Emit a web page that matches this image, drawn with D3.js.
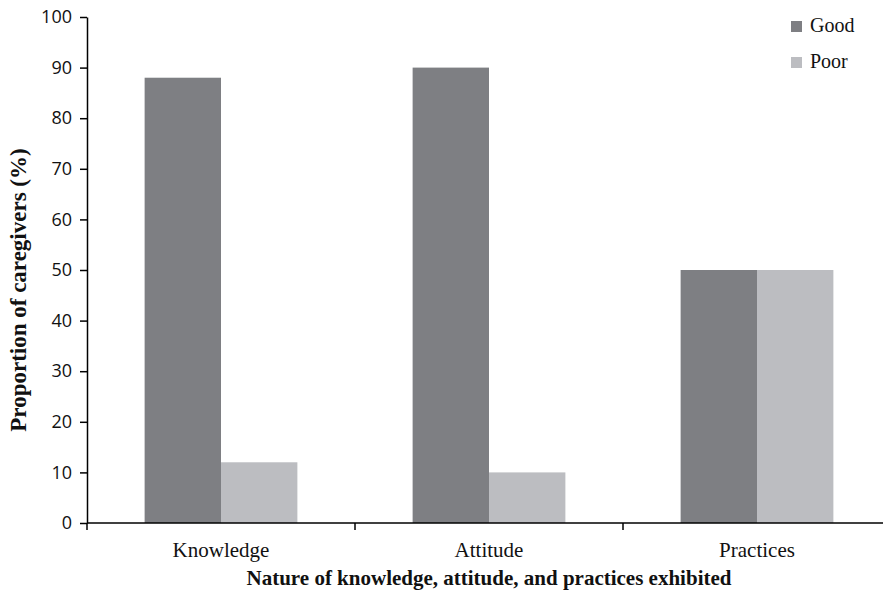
<!DOCTYPE html>
<html>
<head>
<meta charset="utf-8">
<script src="https://cdn.jsdelivr.net/npm/d3@7"></script>
<style>
  body { margin: 0; background: #fff; }
  svg { display: block; }
</style>
</head>
<body>
<div id="chart"></div>
<script>
const categories = ["Knowledge", "Attitude", "Practices"];
const seriesNames = ["Good", "Poor"];
const goodValues = [88, 90, 50];
const poorValues = [12, 10, 50];
const yTicks = [0, 10, 20, 30, 40, 50, 60, 70, 80, 90, 100];

const colors = { Good: "#7e7f83", Poor: "#bcbdc1" };

const W = 883, H = 591;
const margin = { top: 17, right: -8, bottom: 68, left: 87 };
const width = W - margin.left - margin.right;
const height = H - margin.top - margin.bottom;

const data = categories.map((c, i) => ({ category: c, Good: goodValues[i], Poor: poorValues[i] }));

const svg = d3.select("#chart")
  .append("svg")
  .attr("width", W)
  .attr("height", H);

const g = svg.append("g")
  .attr("transform", `translate(${margin.left},${margin.top})`);

const x0 = d3.scaleBand()
  .domain(categories)
  .range([0, width])
  .paddingInner(0.43)
  .paddingOuter(0.215);

const x1 = d3.scaleBand()
  .domain(seriesNames)
  .range([0, x0.bandwidth()]);

const y = d3.scaleLinear()
  .domain([0, 100])
  .range([height, 0]);

// bars
g.selectAll("g.group")
  .data(data)
  .enter()
  .append("g")
  .attr("class", "group")
  .attr("transform", d => `translate(${x0(d.category)},0)`)
  .selectAll("rect")
  .data(d => seriesNames.map(k => ({ key: k, value: d[k] })))
  .enter()
  .append("rect")
  .attr("x", d => x1(d.key))
  .attr("y", d => y(d.value))
  .attr("width", x1.bandwidth())
  .attr("height", d => height - y(d.value))
  .attr("fill", d => colors[d.key]);

// y axis
const yAxis = g.append("g")
  .call(d3.axisLeft(y).tickValues(yTicks).tickSize(7).tickSizeOuter(0).tickPadding(8));
yAxis.select(".domain").attr("stroke", "#000").attr("stroke-width", 1.5);
yAxis.selectAll(".tick line").attr("stroke", "#000").attr("stroke-width", 1.5);
yAxis.selectAll(".tick text")
  .style("font-family", "'Open Sans', sans-serif")
  .style("font-size", "18px")
  .attr("fill", "#111");

// x axis: ticks at category boundaries
const step = x0.step();
const boundaries = d3.range(categories.length + 1).map(i => i * step);
const xAxisG = g.append("g").attr("transform", `translate(0,${height})`);
xAxisG.append("line")
  .attr("x1", 0).attr("x2", width)
  .attr("stroke", "#000").attr("stroke-width", 1.5);
xAxisG.selectAll("line.tk")
  .data(boundaries)
  .enter()
  .append("line")
  .attr("class", "tk")
  .attr("x1", d => d).attr("x2", d => d)
  .attr("y1", 0).attr("y2", 7)
  .attr("stroke", "#000").attr("stroke-width", 1.5);
xAxisG.selectAll("text")
  .data(categories)
  .enter()
  .append("text")
  .attr("x", d => x0(d) + x0.bandwidth() / 2)
  .attr("y", 34)
  .attr("text-anchor", "middle")
  .style("font-family", "'Liberation Serif', 'Times New Roman', serif")
  .style("font-size", "21px")
  .attr("fill", "#111")
  .text(d => d);

// axis titles
svg.append("text")
  .attr("x", margin.left + (step * categories.length) / 2)
  .attr("y", 585)
  .attr("text-anchor", "middle")
  .style("font-family", "'Liberation Serif', 'Times New Roman', serif")
  .style("font-size", "21px")
  .style("font-weight", "bold")
  .attr("fill", "#111")
  .text("Nature of knowledge, attitude, and practices exhibited");

svg.append("text")
  .attr("transform", "rotate(-90)")
  .attr("x", -290)
  .attr("y", 26)
  .attr("text-anchor", "middle")
  .style("font-family", "'Liberation Serif', 'Times New Roman', serif")
  .style("font-size", "23px")
  .style("font-weight", "bold")
  .attr("fill", "#111")
  .text("Proportion of caregivers (%)");

// legend
const legend = svg.append("g").attr("transform", "translate(791,21)");
seriesNames.forEach((k, i) => {
  const row = legend.append("g").attr("transform", `translate(0,${i * 36})`);
  row.append("rect")
    .attr("width", 11).attr("height", 11)
    .attr("fill", colors[k]);
  row.append("text")
    .attr("x", 19)
    .attr("y", 11)
    .style("font-family", "'Liberation Serif', 'Times New Roman', serif")
    .style("font-size", "20px")
    .attr("fill", "#111")
    .text(k);
});
</script>
</body>
</html>
